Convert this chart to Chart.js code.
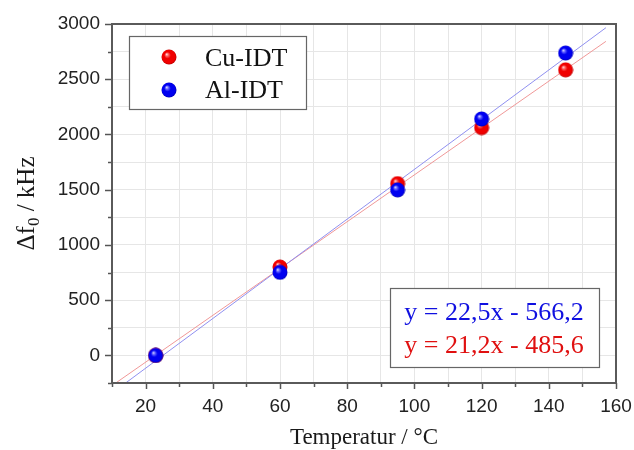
<!DOCTYPE html>
<html>
<head>
<meta charset="utf-8">
<script src="https://cdn.jsdelivr.net/npm/chart.js@4"></script>
<style>
  html, body { margin: 0; padding: 0; background: #fff; }
  #wrap { width: 634px; height: 450px; }
</style>
</head>
<body>
<div id="wrap"><canvas id="c" width="634" height="450"></canvas></div>
<script>
// Measured frequency shift versus temperature for two IDT metallisations
const temperatures = [23, 60, 95, 120, 145];
const cuShift = [0, 800, 1555, 2062, 2585];
const alShift = [0, 752, 1498, 2140, 2737];

// Linear fits (slope, intercept) as printed in the equation box
const cuFit = { slope: 21.2, intercept: -485.6, label: 'y = 21,2x - 485,6' };
const alFit = { slope: 22.5, intercept: -566.2, label: 'y = 22,5x - 566,2' };
const fitRange = [10, 157];

const seriesNames = ['Cu-IDT', 'Al-IDT'];
const xTickLabels = [20, 40, 60, 80, 100, 120, 140, 160];
const yTickLabels = [0, 500, 1000, 1500, 2000, 2500, 3000];

const SERIF = '"Liberation Serif", "Times New Roman", serif';
const SANS = '"Liberation Sans", Arial, sans-serif';

// Shaded ball marker
function makeSphere(light, mid, base, dark) {
  const s = 16, r = 7.5;
  const cv = document.createElement('canvas');
  cv.width = s; cv.height = s;
  const g = cv.getContext('2d');
  const grad = g.createRadialGradient(s / 2 - 2.4, s / 2 - 2.8, 0.2, s / 2, s / 2, r + 0.5);
  grad.addColorStop(0, light);
  grad.addColorStop(0.18, mid);
  grad.addColorStop(0.4, base);
  grad.addColorStop(0.8, base);
  grad.addColorStop(1, dark);
  g.fillStyle = grad;
  g.beginPath();
  g.arc(s / 2, s / 2, r, 0, Math.PI * 2);
  g.fill();
  return cv;
}
const redBall = makeSphere('#ffd8d8', '#ff6060', '#f00000', '#b00000');
const blueBall = makeSphere('#d8d8ff', '#6060ff', '#0000f0', '#0000a8');

function pts(xs, ys) { return xs.map((x, i) => ({ x, y: ys[i] })); }
function fitLine(f) { return fitRange.map(x => ({ x, y: f.slope * x + f.intercept })); }

// Frame, outward ticks, axis titles, legend and equation box
const decorations = {
  id: 'decorations',
  afterDraw(chart) {
    const { ctx, chartArea: a, scales } = chart;
    const xs = scales.x, ys = scales.y;
    ctx.save();

    // outward ticks
    ctx.strokeStyle = '#555';
    ctx.lineWidth = 1.5;
    for (let v = 10; v <= 160; v += 10) {
      const px = Math.round(xs.getPixelForValue(v)) + 0.5;
      const len = xTickLabels.includes(v) ? 6 : 4;
      ctx.beginPath(); ctx.moveTo(px, a.bottom); ctx.lineTo(px, a.bottom + len); ctx.stroke();
    }
    for (let v = -250; v <= 3000; v += 250) {
      const py = Math.round(ys.getPixelForValue(v)) + 0.5;
      const len = yTickLabels.includes(v) ? 7 : 4;
      ctx.beginPath(); ctx.moveTo(a.left, py); ctx.lineTo(a.left - len, py); ctx.stroke();
    }

    // plot frame
    ctx.strokeStyle = '#5a5a5a';
    ctx.lineWidth = 2;
    ctx.strokeRect(a.left, a.top, a.right - a.left, a.bottom - a.top);

    // x title
    ctx.fillStyle = '#1a1a1a';
    ctx.font = '23px ' + SERIF;
    ctx.textAlign = 'center';
    ctx.textBaseline = 'middle';
    ctx.fillText('Temperatur / °C', (a.left + a.right) / 2, 438);

    // y title with subscript
    ctx.save();
    ctx.translate(25, (a.top + a.bottom) / 2);
    ctx.rotate(-Math.PI / 2);
    ctx.textBaseline = 'alphabetic';
    ctx.textAlign = 'left';
    const big = '25px ' + SERIF, small = '17px ' + SERIF;
    ctx.font = big; const w1 = ctx.measureText('\u0394f').width;
    ctx.font = small; const w2 = ctx.measureText('0').width;
    ctx.font = big; const w3 = ctx.measureText(' / kHz').width;
    let x0 = -(w1 + w2 + w3) / 2;
    ctx.font = big; ctx.fillText('\u0394f', x0, 9);
    ctx.font = small; ctx.fillText('0', x0 + w1, 14);
    ctx.font = big; ctx.fillText(' / kHz', x0 + w1 + w2, 9);
    ctx.restore();

    // legend box
    ctx.fillStyle = '#fff';
    ctx.fillRect(129, 36, 177, 73);
    ctx.strokeStyle = '#666';
    ctx.lineWidth = 1.2;
    ctx.strokeRect(129.5, 36.5, 177, 73);
    ctx.drawImage(redBall, 169 - 8, 57 - 8);
    ctx.drawImage(blueBall, 169 - 8, 90 - 8);
    ctx.fillStyle = '#111';
    ctx.font = '26px ' + SERIF;
    ctx.textAlign = 'left';
    ctx.textBaseline = 'middle';
    ctx.fillText(seriesNames[0], 205, 59);
    ctx.fillText(seriesNames[1], 205, 91);

    // equation box
    ctx.fillStyle = '#fff';
    ctx.fillRect(390, 288, 209, 79);
    ctx.strokeStyle = '#666';
    ctx.strokeRect(390.5, 288.5, 209, 79);
    ctx.font = '26px ' + SERIF;
    ctx.textAlign = 'center';
    ctx.fillStyle = '#1010e0';
    ctx.fillText(alFit.label, 494, 313);
    ctx.fillStyle = '#e01010';
    ctx.fillText(cuFit.label, 494, 346);

    ctx.restore();
  }
};

new Chart(document.getElementById('c'), {
  type: 'scatter',
  data: {
    datasets: [
      { label: seriesNames[1], data: pts(temperatures, alShift), pointStyle: blueBall, pointRadius: 8, order: 0 },
      { label: seriesNames[0], data: pts(temperatures, cuShift), pointStyle: redBall, pointRadius: 8, order: 1 },
      { label: 'Al fit', data: fitLine(alFit), type: 'line', showLine: true, borderColor: '#9090f0', borderWidth: 1, pointRadius: 0, fill: false, order: 2 },
      { label: 'Cu fit', data: fitLine(cuFit), type: 'line', showLine: true, borderColor: '#f09898', borderWidth: 1, pointRadius: 0, fill: false, order: 3 }
    ]
  },
  options: {
    responsive: false,
    animation: false,
    events: [],
    layout: { padding: { top: 24, right: 18, left: 0, bottom: 0 } },
    plugins: { legend: { display: false }, tooltip: { enabled: false } },
    scales: {
      x: {
        type: 'linear', min: 10, max: 160,
        afterFit: s => { s.height = 67; s.paddingLeft = 0; s.paddingRight = 0; },
        border: { display: false },
        grid: { color: '#e6e6e6', lineWidth: 1, drawTicks: false },
        ticks: {
          stepSize: 10, autoSkip: false, maxRotation: 0, padding: 12,
          color: '#222', font: { family: SANS, size: 19 },
          callback: v => xTickLabels.includes(v) ? String(v) : ''
        }
      },
      y: {
        type: 'linear', min: -250, max: 3000,
        afterFit: s => { s.width = 112; s.paddingTop = 0; s.paddingBottom = 0; },
        border: { display: false },
        grid: { color: '#e6e6e6', lineWidth: 1, drawTicks: false },
        ticks: {
          stepSize: 250, autoSkip: false, padding: 12,
          color: '#222', font: { family: SANS, size: 19 },
          callback: v => yTickLabels.includes(v) ? String(v) : ''
        }
      }
    }
  },
  plugins: [decorations]
});
</script>
</body>
</html>
